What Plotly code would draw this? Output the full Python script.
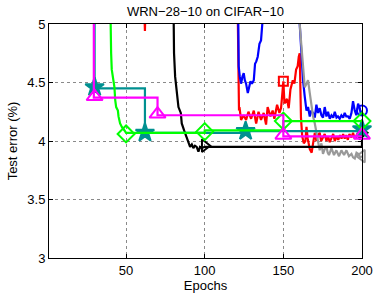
import plotly.graph_objects as go

# ---------------- data ----------------
blue_ep = [120.8, 121.6, 122.3, 123.1, 124.0, 124.8, 125.5, 126.3, 127.4, 128.2, 129.1, 130.0, 131.2,
           132.0, 132.8, 133.7, 134.3, 134.8, 135.8, 136.9, 137.5, 159.8, 160.4, 161.5, 162.5, 163.6,
           164.7, 165.7, 166.8, 167.8, 168.9, 170.0, 171.0, 172.0, 173.1, 174.2, 175.2, 176.3, 177.4,
           178.4, 179.5, 180.6, 181.7, 182.7, 183.8, 184.7, 185.8, 186.9, 188.0, 189.0, 190.0, 191.1,
           192.2, 193.3, 194.3, 195.4, 196.4, 197.5, 198.6, 199.3, 200.0]
blue_err = [5.8, 4.64, 4.55, 4.49, 4.55, 4.58, 4.52, 4.49, 4.41, 4.46, 4.51, 4.49, 4.52,
            4.66, 4.68, 4.72, 4.80, 4.83, 4.86, 5.05, 5.6, 5.6, 5.0, 4.75, 4.52, 4.38,
            4.26, 4.29, 4.21, 4.26, 4.24, 4.20, 4.31, 4.24, 4.28, 4.22, 4.20, 4.29, 4.21,
            4.25, 4.19, 4.22, 4.20, 4.25, 4.20, 4.21, 4.19, 4.22, 4.20, 4.24, 4.21, 4.21,
            4.19, 4.24, 4.34, 4.26, 4.22, 4.32, 4.28, 4.22, 4.26]
blue_mark_ep = [200]
blue_mark_err = [4.26]

red_ep = [60.5, 61.6, 62.0, 62.4, 63.5, 120.3, 120.8, 121.8, 122.1, 123.1, 124.8, 126.3, 127.8, 129.5,
          131.2, 132.7, 134.2, 135.8, 137.5, 139.0, 140.0, 141.8, 143.2, 144.3, 146.0, 147.5,
          148.5, 149.0, 150.0, 150.7, 152.3, 153.4, 154.5, 156.0, 157.0, 158.1, 159.1, 159.8,
          160.4, 161.2, 162.0, 163.0, 164.0, 164.7, 165.5, 166.8, 168.0, 168.9, 170.0, 171.0,
          172.0, 173.1, 174.0, 175.2, 176.3, 177.4, 178.4, 179.5, 180.6, 181.7, 182.7, 183.8,
          184.9, 186.0, 187.0, 188.0, 189.0, 190.0, 191.0, 192.0, 193.3, 194.3, 195.4, 196.4,
          197.5, 198.6, 200.0]
red_err = [5.6, 5.2, 4.94, 5.2, 5.6, 5.6, 5.3, 4.26, 4.29, 4.18, 4.22, 4.18, 4.25, 4.19,
           4.26, 4.15, 4.25, 4.18, 4.24, 4.14, 4.29, 4.21, 4.26, 4.19, 4.31, 4.24,
           4.28, 4.35, 4.51, 4.32, 4.36, 4.28, 4.44, 4.52, 4.49, 4.61, 4.64, 4.72,
           4.75, 4.20, 4.04, 3.98, 4.00, 4.12, 4.02, 3.93, 3.90, 3.98, 4.07, 4.00,
           4.05, 4.07, 4.00, 4.03, 4.06, 4.00, 4.04, 3.99, 4.03, 4.06, 4.00, 4.04,
           4.01, 4.05, 4.02, 4.06, 4.02, 4.05, 4.01, 4.06, 4.03, 4.07, 4.02, 4.05,
           4.07, 4.03, 4.06]
red_mark_ep = [150]
red_mark_err = [4.51]

black_ep = [79.8, 80.2, 80.5, 81.2, 82.2, 83.3, 84.8, 85.4, 86.9, 88.1, 89.6, 90.7, 91.8, 92.8,
            93.8, 94.9, 96.0, 97.0, 98.1, 100.0, 200.0, 200.0]
black_err = [5.6, 5.0, 4.75, 4.55, 4.41, 4.29, 4.24, 4.15, 4.09, 4.04, 3.98, 3.95, 3.97, 3.94,
             3.96, 3.95, 3.91, 3.95, 3.94, 3.95, 3.95, 4.07]
black_mark_ep = [100, 200]
black_mark_err = [3.96, 4.07]

gray_ep = [160.2, 160.4, 161.5, 162.5, 163.6, 164.7, 165.7, 166.8, 167.8, 168.9, 170.0, 171.0,
           172.1, 173.1, 174.2, 175.2, 176.3, 177.4, 178.2, 179.0, 180.6, 181.4, 182.2, 183.7,
           184.5, 185.4, 186.9, 187.8, 188.6, 190.1, 191.7, 193.3, 194.3, 195.4, 196.5, 197.5,
           198.8, 200.0]
gray_err = [5.6, 5.0, 4.81, 4.61, 4.46, 4.49, 4.52, 4.41, 4.29, 4.21, 4.15, 4.08,
            4.01, 3.92, 3.98, 3.89, 3.93, 3.95, 3.90, 3.88, 3.94, 3.90, 3.88, 3.92,
            3.89, 3.87, 3.92, 3.90, 3.88, 3.92, 3.87, 3.89, 3.86, 3.85, 3.90, 3.89,
            3.86, 3.87]
gray_mark_ep = [200]
gray_mark_err = [3.87]

green_ep = [39.5, 40.0, 40.5, 40.9, 42.0, 42.6, 43.1, 43.7, 44.8, 45.2, 46.2, 47.3, 49.0, 50.0,
            100.0, 100.0, 150.0, 150.0, 200.0]
green_err = [5.6, 5.0, 4.75, 4.61, 4.52, 4.46, 4.35, 4.29, 4.26, 4.21, 4.15, 4.12, 4.09, 4.07,
             4.07, 4.09, 4.09, 4.17, 4.17]
green_mark_ep = [50, 100, 150, 200]
green_mark_err = [4.06, 4.08, 4.17, 4.17]

teal_ep = [30.0, 30.0, 62.0, 62.0, 126.0, 126.0, 200.0, 200.0]
teal_err = [5.6, 4.45, 4.45, 4.07, 4.07, 4.085, 4.085, 4.10]
teal_mark_ep = [30, 62, 126, 200]
teal_mark_err = [4.46, 4.07, 4.085, 4.10]

magenta_ep = [29.5, 29.5, 70.0, 70.0, 150.0, 150.0, 200.0, 200.0]
magenta_err = [5.6, 4.37, 4.37, 4.22, 4.22, 4.04, 4.04, 4.05]
magenta_mark_ep = [30, 70, 150, 200]
magenta_mark_err = [4.38, 4.23, 4.05, 4.05]

x_ticks = [50, 100, 150, 200]
y_ticks = [3, 3.5, 4, 4.5, 5]
y_tick_text = ["3", "3.5", "4", "4.5", "5"]

# ---------------- figure ----------------
fig = go.Figure()

series = [
    (red_ep, red_err, red_mark_ep, red_mark_err, "#ff0000", "square-open", 9),
    (blue_ep, blue_err, blue_mark_ep, blue_mark_err, "#0000ff", "circle-open", 10),
    (gray_ep, gray_err, gray_mark_ep, gray_mark_err, "#999999", "triangle-left-open", 11),
    (black_ep, black_err, black_mark_ep, black_mark_err, "#000000", "triangle-right-open", 11),
    (teal_ep, teal_err, teal_mark_ep, teal_mark_err, "#009090", "star", 14),
    (green_ep, green_err, green_mark_ep, green_mark_err, "#00ff00", "diamond-open", 13),
    (magenta_ep, magenta_err, magenta_mark_ep, magenta_mark_err, "#ff00ff", "triangle-up-open", 14),
]

for ep, err, mep, merr, col, sym, sz in series:
    fig.add_trace(go.Scatter(x=ep, y=err, mode="lines",
                             line=dict(color=col, width=2.2), showlegend=False,
                             hoverinfo="skip"))
    fig.add_trace(go.Scatter(x=mep, y=merr, mode="markers", cliponaxis=False,
                             marker=dict(symbol=sym, size=sz, color=col,
                                         line=dict(color=col, width=2)),
                             showlegend=False, hoverinfo="skip"))

axis_common = dict(showline=True, linecolor="black", linewidth=1, mirror="ticks",
                   ticks="inside", ticklen=4, tickcolor="black", automargin=False,
                   showgrid=True, gridcolor="#8a8a8a", gridwidth=1, griddash="dot",
                   zeroline=False, tickfont=dict(size=13, color="black"))

fig.update_layout(
    width=377, height=294,
    margin=dict(l=49, r=15, t=24, b=36),
    paper_bgcolor="white", plot_bgcolor="white",
    font=dict(family="Liberation Sans, Arial, sans-serif", size=13, color="black"),
    title=dict(text="WRN−28−10 on CIFAR−10", x=0.5, xref="paper",
               y=1 - 11 / 294, yref="container", yanchor="middle",
               font=dict(size=13, color="black")),
    xaxis=dict(range=[1, 200], tickvals=x_ticks,
               title=dict(text="Epochs", standoff=2, font=dict(size=13)),
               **axis_common),
    yaxis=dict(range=[3, 5], tickvals=y_ticks, ticktext=y_tick_text,
               title=dict(text="Test error (%)", standoff=6, font=dict(size=13)),
               **axis_common),
)

fig.write_html("out.html", config={"displayModeBar": False},
               post_script="document.body.style.margin='0';document.body.style.overflow='hidden';")
